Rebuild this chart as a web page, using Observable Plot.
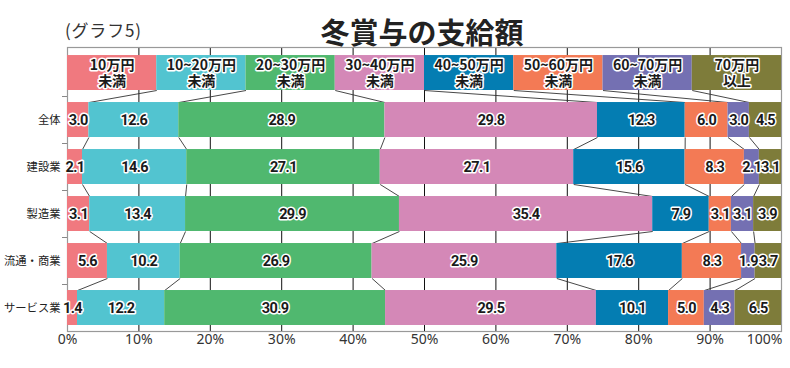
<!DOCTYPE html>
<html>
<head>
<meta charset="utf-8">
<script src="https://cdn.jsdelivr.net/npm/d3@7"></script>
<script src="https://cdn.jsdelivr.net/npm/@observablehq/plot@0.6"></script>
<style>
  html, body { margin: 0; padding: 0; background: #fff; }
  #wrap { position: relative; width: 790px; height: 368px; overflow: hidden; }
  #title { position: absolute; left: 0; width: 844px; top: 17px; text-align: center;
           font-family: "Noto Sans CJK JP", sans-serif; font-weight: 700; font-size: 29px;
           line-height: 1; color: #222; }
  #sub { position: absolute; left: 65px; top: 21px; font-family: "Noto Sans CJK JP", sans-serif;
         font-size: 17px; line-height: 1; color: #333; letter-spacing: 0.8px; }
  #chart { position: absolute; left: 0; top: 0; }
  #chart g[font-family^="Roboto"] { letter-spacing: -0.6px; }
</style>
</head>
<body>
<div id="wrap">
  <div id="chart"></div>
  <div id="title">冬賞与の支給額</div>
  <div id="sub">(グラフ5)</div>
</div>
<script>
// ---- data ----
const categories = ["全体", "建設業", "製造業", "流通・商業", "サービス業"];
const bandNames = ["10万円未満", "10~20万円未満", "20~30万円未満", "30~40万円未満",
                   "40~50万円未満", "50~60万円未満", "60~70万円未満", "70万円以上"];
const bandLabels = ["10万円\n未満", "10~20万円\n未満", "20~30万円\n未満", "30~40万円\n未満",
                    "40~50万円\n未満", "50~60万円\n未満", "60~70万円\n未満", "70万円\n以上"];
const bandColors = ["#f0797f", "#52c4d0", "#50b86f", "#d488b7",
                    "#047db2", "#f37a55", "#7470b2", "#7e7c3a"];
const zentai   = [3.0, 12.6, 28.9, 29.8, 12.3, 6.0, 3.0, 4.5];
const kensetsu = [2.1, 14.6, 27.1, 27.1, 15.6, 8.3, 2.1, 3.1];
const seizou   = [3.1, 13.4, 29.9, 35.4, 7.9, 3.1, 3.1, 3.9];
const ryutsu   = [5.6, 10.2, 26.9, 25.9, 17.6, 8.3, 1.9, 3.7];
const service  = [1.4, 12.2, 30.9, 29.5, 10.1, 5.0, 4.3, 6.5];
const xTicks = [0, 10, 20, 30, 40, 50, 60, 70, 80, 90, 100];
const xTickLabels = ["0%", "10%", "20%", "30%", "40%", "50%", "60%", "70%", "80%", "90%", "100%"];

// ---- derived table ----
const series = [zentai, kensetsu, seizou, ryutsu, service];
const rows = [bandNames.map(() => 1), ...series]; // row 0 = header legend (equal widths)
const segs = [];
rows.forEach((vals, r) => {
  const sum = d3.sum(vals);
  let c = 0;
  vals.forEach((v, j) => {
    segs.push({r, j, v, x1: c / sum * 100, x2: (c + v) / sum * 100});
    c += v;
  });
});
const H = 0.372; // half bar thickness in row units
const links = [];
for (let r = 0; r < rows.length - 1; r++) {
  for (let j = 1; j < bandNames.length; j++) {
    const a = segs.find(s => s.r === r && s.j === j);
    const b = segs.find(s => s.r === r + 1 && s.j === j);
    links.push({x1: a.x1, y1: r + H, x2: b.x1, y2: r + 1 - H});
  }
}
const barSegs = segs.filter(s => s.r > 0);
const headSegs = segs.filter(s => s.r === 0);
const gridTicks = xTicks.slice(1, -1);
const tickRows = xTicks.map((t, i) => ({t, label: xTickLabels[i]}));
const numFont = "Roboto, sans-serif";
const jpFont = "'Noto Sans CJK JP', sans-serif";
const axisFont = "'Noto Sans', sans-serif";

const chart = Plot.plot({
  width: 790,
  height: 368,
  marginTop: 47,
  marginBottom: 37,
  marginLeft: 67,
  marginRight: 9,
  style: {background: "#fff"},
  x: {domain: [0, 100], axis: null},
  y: {domain: [-0.543, 5.5], reverse: true, axis: null},
  color: {domain: bandNames, range: bandColors},
  marks: [
    Plot.ruleX(gridTicks, {stroke: "#111", strokeWidth: 1}),
    Plot.frame({stroke: "#999", strokeWidth: 1.2}),
    Plot.axisY({ticks: d3.range(0.5, categories.length, 1), tickSize: 5, tickFormat: () => "", stroke: "#888"}),
    Plot.link(links, {x1: "x1", y1: "y1", x2: "x2", y2: "y2", stroke: "#333", strokeWidth: 0.9}),
    Plot.rect(segs, {x1: "x1", x2: "x2", y1: d => d.r - H, y2: d => d.r + H, fill: d => bandNames[d.j]}),
    Plot.text(headSegs, {x: d => (d.x1 + d.x2) / 2, y: "r", text: d => bandLabels[d.j],
      fontFamily: jpFont, fontWeight: "bold", fontSize: 14, lineHeight: 1.1,
      fill: "#1a1a1a", stroke: "#fff", strokeWidth: 3}),
    Plot.text(barSegs, {x: d => (d.x1 + d.x2) / 2, y: "r", text: d => d.v.toFixed(1),
      fontFamily: numFont, fontWeight: "bold", fontSize: 14.5,
      fill: "#1a1a1a", stroke: "#fff", strokeWidth: 3}),
    Plot.text(categories, {x: 0, y: (d, i) => i + 1, text: d => d, textAnchor: "end", dx: -7,
      fontFamily: jpFont, fontSize: 11.3, fill: "#222"}),
    Plot.text(tickRows.slice(0, -1), {x: "t", frameAnchor: "bottom", text: "label",
      dy: 12, fontFamily: axisFont, fontSize: 14, fill: "#333"}),
    Plot.text(tickRows.slice(-1), {x: "t", frameAnchor: "bottom", text: "label", textAnchor: "end",
      dy: 12, dx: 1, fontFamily: axisFont, fontSize: 14, fill: "#333"})
  ]
});
document.getElementById("chart").appendChild(chart);
</script>
</body>
</html>
